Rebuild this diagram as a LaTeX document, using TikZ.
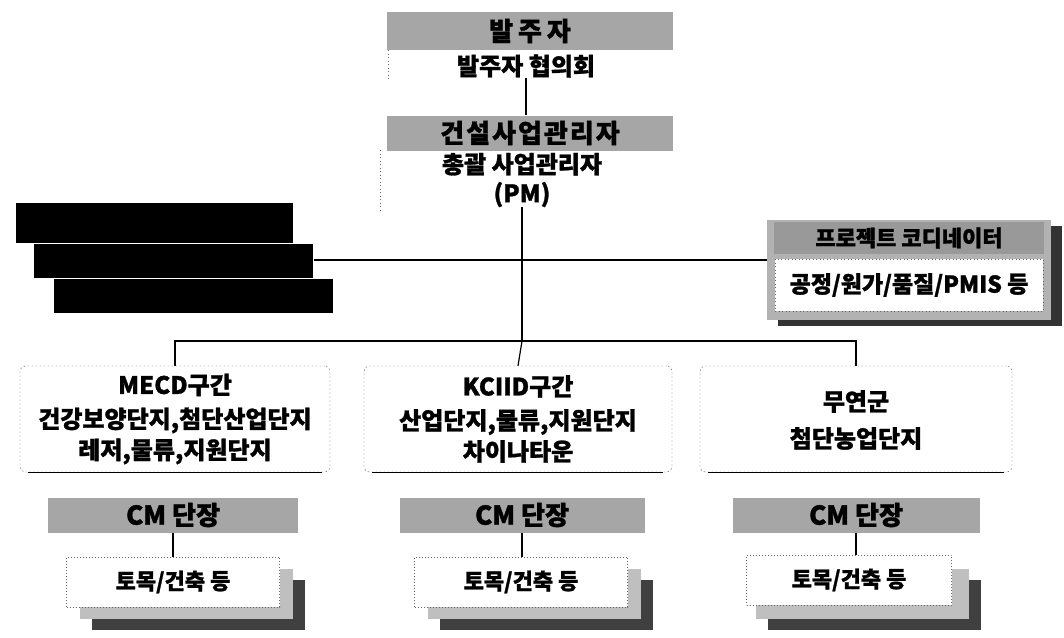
\documentclass[tikz,border=0pt]{standalone}
\usepackage{fontspec}
\setmainfont{Noto Sans CJK KR}[BoldFeatures={FakeBold=1.2}]
\begin{document}
\begin{tikzpicture}[x=1pt,y=-1pt,
  txt/.style={font=\fontsize{24}{29}\selectfont\bfseries, inner sep=0pt, align=center},
  band/.style={fill=black!35, draw=none, inner sep=0pt, font=\fontsize{26}{30}\selectfont\bfseries},
  blk/.style={fill=black, draw=white, line width=1pt, inner sep=0pt},
  region/.style={draw=black!70, dash pattern=on 1.5pt off 2.5pt, rounded corners=5pt, fill=white, inner sep=0pt, minimum width=308pt, minimum height=106pt},
  front/.style={draw=black!60, dash pattern=on 1pt off 2pt, fill=white, inner sep=0pt, minimum width=213pt, minimum height=50pt, font=\fontsize{22}{26}\selectfont\bfseries},
  midl/.style={fill=black!25, draw=none, minimum width=213pt, minimum height=50pt, inner sep=0pt},
  darkl/.style={fill=black!75, draw=none, minimum width=213pt, minimum height=50pt, inner sep=0pt},
  conn/.style={draw=black, line width=1.2pt},
  dotb/.style={draw=black!60, dash pattern=on 1pt off 2.5pt, line width=0.8pt}
]
\useasboundingbox (0,0) rectangle (1064,637);

% top: owner
\node[band, minimum width=286pt, minimum height=38pt] (own) at (530,31) {발\hspace{5pt}주\hspace{5pt}자};
\node[txt] (ownc) at (526,66) {발주자 협의회};
\coordinate (ownl) at (388,50);
\coordinate (ownl2) at (388,80);
\draw[dotb] (ownl) -- (ownl2);

% construction manager
\node[band, minimum width=286pt, minimum height=35pt] (cm) at (530,133) {건\hspace{2pt}설\hspace{2pt}사\hspace{2pt}업\hspace{2pt}관\hspace{2pt}리\hspace{2pt}자};
\node[txt] (pm) at (522,180) {총괄 사업관리자\\(PM)};
\coordinate (cml) at (380,150);
\coordinate (cml2) at (380,210);
\draw[dotb] (cml) -- (cml2);

\draw[conn] (ownc.south) -- (ownc.south |- cm.north);

% left black boxes
\node[blk, minimum width=278pt, minimum height=41pt] (b1) at (154,223) {};
\node[blk, minimum width=280pt, minimum height=35pt] (b2) at (173,261) {};
\node[blk, minimum width=280pt, minimum height=35pt] (b3) at (193,296) {};

% project coordinator box
\node[fill=black!80, minimum width=284pt, minimum height=100pt, inner sep=0pt] (pcs) at (920,276) {};
\node[fill=black!30, minimum width=284pt, minimum height=100pt, inner sep=0pt] (pc) at (909,270) {};
\node[band, fill=black!40, minimum width=270pt, minimum height=32pt, font=\fontsize{22}{26}\selectfont\bfseries] (pch) at (909,238) {프로젝트 코디네이터};
\node[dotb, fill=white, minimum width=268pt, minimum height=52pt, inner sep=0pt, font=\fontsize{23}{27}\selectfont\bfseries] (pcb) at (909,285) {공정/원가/품질/PMIS 등};

% junctions
\coordinate (j1) at (522,260);
\coordinate (j2) at (522,341);
\draw[conn] (pm.south) -- (j2);
\draw[conn] (b2.east |- j1) -- (pc.west |- j1);

% region boxes
\node[region, minimum width=310pt] (r1) at (175,419) {};
\node[txt] (r1t) at (175,419) {MECD구간\\[5pt]건강보양단지,첨단산업단지\\[2pt]레저,물류,지원단지};
\node[region] (r2) at (518,419) {};
\node[txt] (r2t) at (518,419) {KCIID구간\\[5pt]산업단지,물류,지원단지\\[2pt]차이나타운};
\node[region, minimum width=312pt] (r3) at (856,419) {};
\node[txt] (r3t) at (856,420) {무연군\\[8pt]첨단농업단지};
\draw[line width=1pt] (r1.south west) ++(8,0) -- ++(294,0);
\draw[line width=1pt] (r2.south west) ++(8,0) -- ++(291,0);
\draw[line width=1pt] (r3.south west) ++(8,0) -- ++(296,0);

\draw[conn] (r1.north) -- (r1.north |- j2) -- (r3.north |- j2) -- (r3.north);
\draw[conn] (j2) -- (r2.north);

% CM leaders
\node[band, minimum width=250pt, minimum height=35pt] (c1) at (173,515) {CM 단장};
\node[band, minimum width=245pt, minimum height=35pt] (c2) at (522,515) {CM 단장};
\node[band, minimum width=247pt, minimum height=35pt] (c3) at (856,515) {CM 단장};

% work boxes (stacked)
\node[darkl] (d1) at (198,605) {};
\node[midl] (m1) at (186,594) {};
\node[front] (w1) at (173,582) {토목/건축 등};
\node[darkl] (d2) at (546,605) {};
\node[midl] (m2) at (534,594) {};
\node[front] (w2) at (521,582) {토목/건축 등};
\node[darkl] (d3) at (874,605) {};
\node[midl] (m3) at (862,594) {};
\node[front, minimum width=205pt] (w3) at (849,580) {토목/건축 등};

\draw[conn] (c1.south) -- (w1.north -| c1.south);
\draw[conn] (c2.south) -- (w2.north -| c2.south);
\draw[conn] (c3.south) -- (w3.north -| c3.south);
\end{tikzpicture}
\end{document}
